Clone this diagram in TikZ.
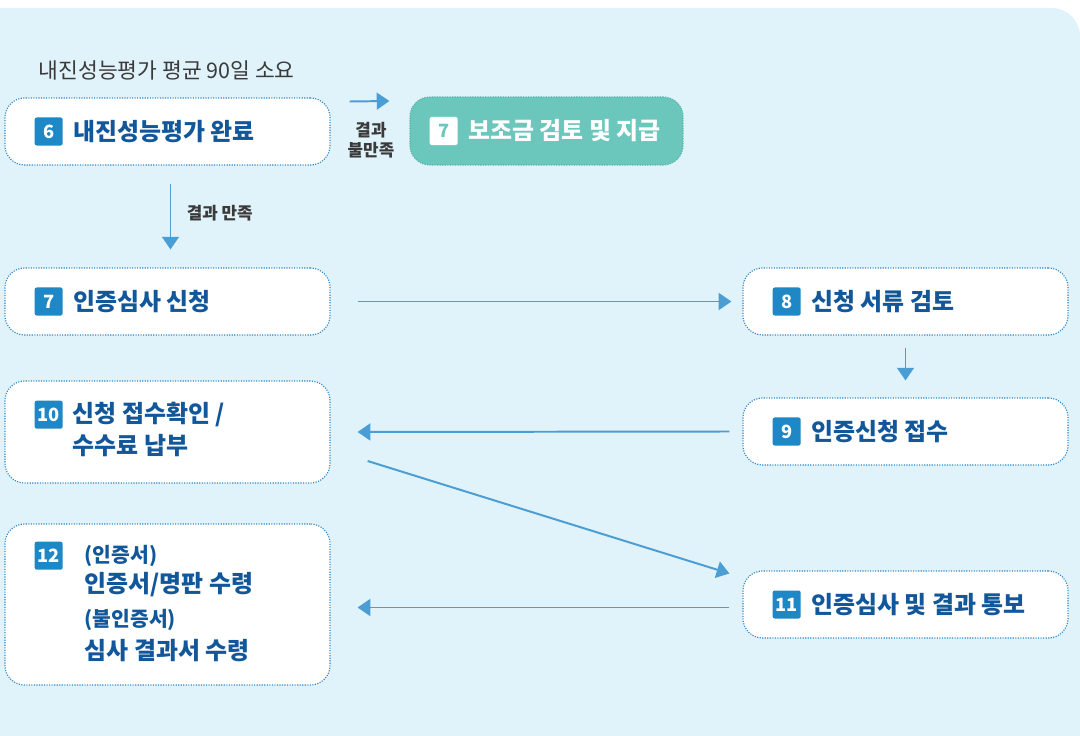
\documentclass[tikz,border=0pt]{standalone}
\usepackage{fontspec}
\setmainfont{Noto Sans CJK KR}
\usetikzlibrary{arrows.meta,positioning,calc}

\definecolor{bgblue}{HTML}{E0F2FA}
\definecolor{boxline}{HTML}{2F86C6}
\definecolor{badgeblue}{HTML}{1E87C6}
\definecolor{txtblue}{HTML}{12579A}
\definecolor{arrowblue}{HTML}{4A9ED3}
\definecolor{tealbox}{HTML}{6BC7BC}
\definecolor{tealline}{HTML}{4FB5A9}
\definecolor{notegray}{HTML}{3A3A3A}

\begin{document}
\begin{tikzpicture}[
  x=0.025cm, y=-0.025cm,
  box/.style={draw=boxline, densely dotted, line width=0.8pt, fill=white, rounded corners=14pt,
    minimum width=8.125cm, minimum height=1.675cm},
  badge/.style={fill=badgeblue, text=white, rounded corners=1.5pt, minimum size=0.7cm, inner sep=0pt,
    font=\bfseries\fontsize{13}{13}\selectfont},
  lbl/.style={text=txtblue, inner sep=0pt, align=left, font=\bfseries\fontsize{17}{21}\selectfont},
  sublbl/.style={lbl, font=\bfseries\fontsize{14.5}{16}\selectfont},
  arr/.style={-{Triangle[length=9pt,width=12pt]}, line width=1.4pt, draw=arrowblue},
  note/.style={text=notegray, align=center, inner sep=0pt, font=\bfseries\fontsize{12}{14.5}\selectfont}
]
\clip (0,0) rectangle (1080,736);
\fill[bgblue, rounded corners=20pt] (-40,8) rectangle (1080,776);

% left column
\node[box] (b6) at (167.5,131.5) {};
\node[box] (b7) at (167.5,301.5) {};
\node[box, minimum height=2.55cm] (b10) at (167.5,432) {};
\node[box, minimum height=4.025cm] (b12) at (167.5,604.5) {};
% right column
\node[box, draw=tealline, fill=tealbox, minimum width=6.825cm, minimum height=1.7cm] (g7) at (546.5,131) {};
\node[box] (b8) at (905.5,301.5) {};
\node[box] (b9) at (905.5,431.5) {};
\node[box] (b11) at (905.5,604.5) {};

\node[anchor=west, inner sep=0pt, text=notegray, font=\fontsize{15.3}{17}\selectfont] (avg)
  at ($(b6.north west)+(34,-27)$) {내진성능평가 평균 90일 소요};

\node[badge, anchor=west] (n6) at ($(b6.west)+(30,0)$) {6};
\node[lbl, right=0.25cm of n6] (l6) {내진성능평가 완료};
\node[badge, anchor=west, fill=white, text=tealbox] (n7g) at ($(g7.west)+(20,0)$) {7};
\node[lbl, text=white, right=0.25cm of n7g] (l7g) {보조금 검토 및 지급};
\node[badge, anchor=west] (n7) at ($(b7.west)+(30,0)$) {7};
\node[lbl, right=0.25cm of n7] (l7) {인증심사 신청};
\node[badge, anchor=west] (n8) at ($(b8.west)+(30,0)$) {8};
\node[lbl, right=0.25cm of n8] (l8) {신청 서류 검토};
\node[badge, anchor=west] (n9) at ($(b9.west)+(30,0)$) {9};
\node[lbl, right=0.25cm of n9] (l9) {인증신청 접수};
\node[badge, anchor=north west] (n10) at ($(b10.north west)+(30,20)$) {10};
\node[lbl, anchor=west] (l10a) at ($(b10.north west)+(68,34)$) {신청 접수확인 /};
\node[lbl, anchor=west] (l10b) at ($(b10.north west)+(68,65)$) {수수료 납부};
\node[badge, anchor=west] (n11) at ($(b11.west)+(30,0)$) {11};
\node[lbl, right=0.25cm of n11] (l11) {인증심사 및 결과 통보};
\node[badge, anchor=north west] (n12) at ($(b12.north west)+(30,18)$) {12};
\node[sublbl, anchor=west] (l12a) at ($(b12.north west)+(80,33)$) {(인증서)};
\node[lbl, anchor=west] (l12b) at ($(b12.north west)+(80,61)$) {인증서/명판 수령};
\node[sublbl, anchor=west] (l12c) at ($(b12.north west)+(80,97)$) {(불인증서)};
\node[lbl, anchor=west] (l12d) at ($(b12.north west)+(80,127)$) {심사 결과서 수령};

% connectors
\draw[arr] ($(b6.east)+(19,-30)$) -- ($(g7.west)+(-20,-30)$);
\node[note] (fail) at ($(b6.east)!0.5!(g7.west)+(1,9)$) {결과\\불만족};
\draw[arr] ($(b6.south)+(3,18)$) -- ($(b7.north)+(3,-18)$);
\node[note, anchor=west] (pass) at ($(b6.south)+(19,48)$) {결과 만족};
\draw[arr] ($(b7.east)+(27,0)$) -- ($(b8.west)+(-11,0)$);
\draw[arr] ($(b8.south)+(0,12)$) -- ($(b9.north)+(0,-17)$);
\draw[arr] ($(b9.west)+(-13,0)$) -- ($(b10.east)+(27,0)$);
\draw[arr] ($(b10.east)+(37,29)$) -- ($(b11.west)+(-13,-31)$);
\draw[arr] ($(b11.west)+(-13,3)$) -- ($(b12.east)+(27,3)$);
\end{tikzpicture}
\end{document}
